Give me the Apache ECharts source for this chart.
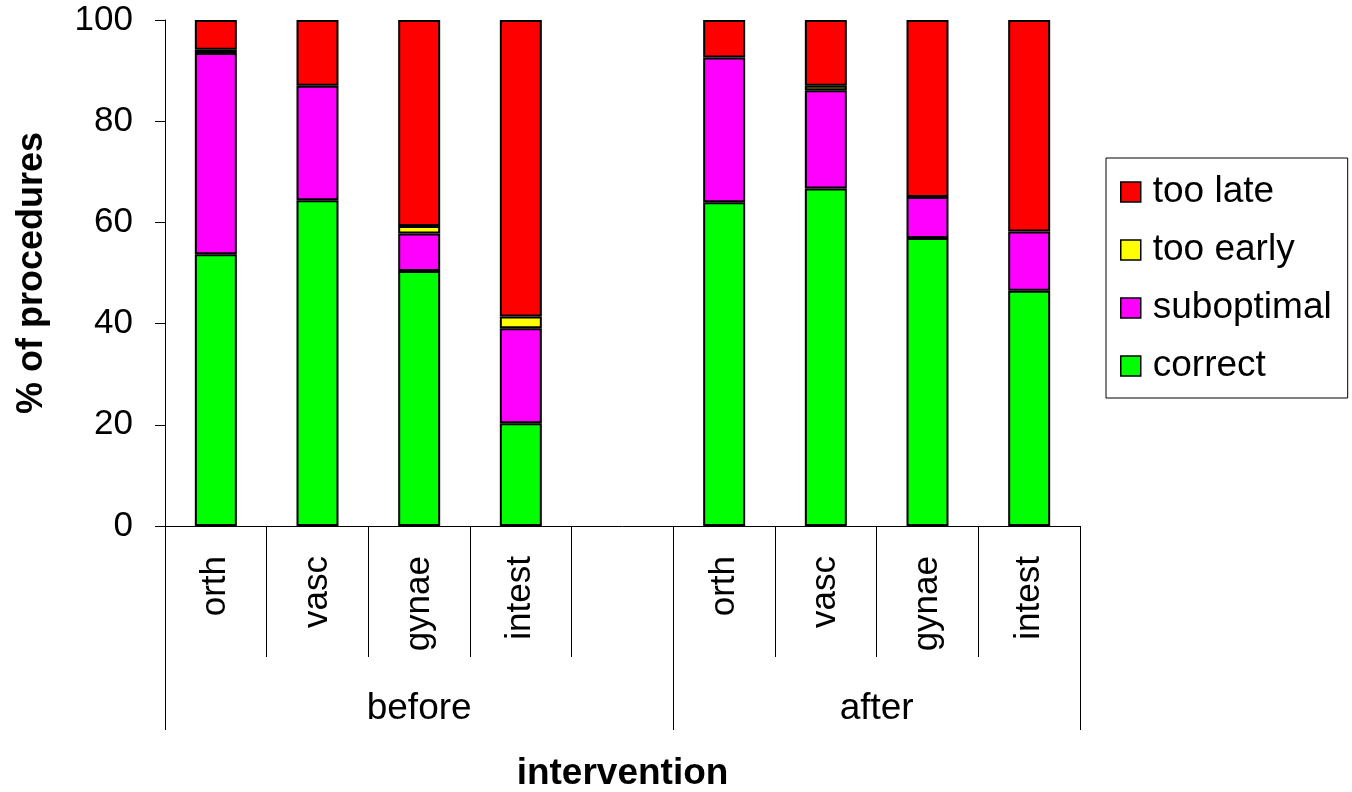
<!DOCTYPE html>
<html>
<head>
<meta charset="utf-8">
<script src="https://cdn.jsdelivr.net/npm/echarts@6/dist/echarts.min.js"></script>
<style>
  html, body { margin: 0; padding: 0; background: #fff; }
  #chart { width: 1352px; height: 792px; }
</style>
</head>
<body>
<div id="chart"></div>
<script>
// Procedure categories (blank slot separates the two intervention groups)
const categories = ['orth', 'vasc', 'gynae', 'intest', '', 'orth', 'vasc', 'gynae', 'intest'];
// Intervention groups and how many category slots each spans
const groupNames = ['before', 'after'];
const groupSpans = [5, 4];

// % of procedures per outcome
const correct    = [53.7, 64.4, 50.4, 20.3, null, 64.0, 66.7, 56.9, 46.5];
const suboptimal = [39.8, 22.6,  7.4, 18.8, null, 28.6, 19.4,  8.1, 11.7];
const tooEarly   = [ 0.6,  0,    1.5,  2.3, null,  0,    0.9,  0,    0  ];
const tooLate    = [ 5.9, 13.0, 40.7, 58.6, null,  7.4, 13.0, 35.0, 41.8];

const yTicks = [0, 20, 40, 60, 80, 100];

// group boundaries and centres on a 0..N slot scale
const groupEdges = [0];
groupSpans.forEach(s => groupEdges.push(groupEdges[groupEdges.length - 1] + s));
const groupCentres = groupSpans.map((s, i) => groupEdges[i] + s / 2);

const FONT = '"Liberation Sans", Arial, sans-serif';
const chart = echarts.init(document.getElementById('chart'));

function seriesOf(name, data, color) {
  return {
    name: name,
    type: 'bar',
    stack: 'total',
    // empty segments are skipped so they add no extra outline
    data: data.map(v => (v === 0 ? null : v)),
    barWidth: 42,
    itemStyle: { color: color, borderColor: '#000', borderWidth: 2 },
    emphasis: { disabled: true }
  };
}

chart.setOption({
  animation: false,
  backgroundColor: '#fff',
  textStyle: { fontFamily: FONT },
  grid: {
    left: 165, top: 20, right: 272, bottom: 266,
    containLabel: false,
    outerBoundsMode: 'none'
  },
  legend: {
    orient: 'vertical',
    left: 1106, top: 158,
    padding: [14, 16, 12, 14],
    borderColor: '#000',
    borderWidth: 1,
    itemWidth: 20, itemHeight: 20,
    itemGap: 18,
    icon: 'rect',
    itemStyle: { borderColor: '#000', borderWidth: 1.5 },
    textStyle: { fontFamily: FONT, fontSize: 37, color: '#000', lineHeight: 40, padding: [0, 0, 0, 7] },
    data: ['too late', 'too early', 'suboptimal', 'correct']
  },
  xAxis: [
    {
      type: 'category',
      data: categories,
      boundaryGap: true,
      position: 'bottom',
      axisLine: { show: true, lineStyle: { color: '#000', width: 1 } },
      axisTick: { show: true, interval: 0, length: 131, lineStyle: { color: '#000', width: 1 } },
      axisLabel: {
        interval: 0, rotate: 90, margin: 30,
        fontFamily: FONT, fontSize: 35, color: '#000'
      },
      splitLine: { show: false }
    },
    {
      type: 'value',
      min: 0, max: groupEdges[groupEdges.length - 1],
      position: 'bottom',
      axisLine: { show: false },
      axisTick: { show: true, customValues: groupEdges, length: 204, lineStyle: { color: '#000', width: 1 } },
      axisLabel: {
        customValues: groupCentres,
        margin: 164,
        fontFamily: FONT, fontSize: 37, color: '#000',
        formatter: (v) => groupNames[groupCentres.indexOf(v)]
      },
      splitLine: { show: false },
      name: 'intervention',
      nameLocation: 'middle',
      nameGap: 229,
      nameTextStyle: { fontFamily: FONT, fontSize: 37, fontWeight: 'bold', color: '#000' }
    }
  ],
  yAxis: {
    type: 'value',
    min: yTicks[0], max: yTicks[yTicks.length - 1], interval: 20,
    axisLine: { show: true, lineStyle: { color: '#000', width: 1 } },
    axisTick: { show: true, inside: false, length: 10, lineStyle: { color: '#000', width: 1 } },
    axisLabel: { margin: 32, fontFamily: FONT, fontSize: 35, color: '#000' },
    splitLine: { show: false },
    name: '% of procedures',
    nameLocation: 'middle',
    nameRotate: 90,
    nameGap: 115,
    nameTextStyle: { fontFamily: FONT, fontSize: 36, fontWeight: 'bold', color: '#000' }
  },
  series: [
    seriesOf('correct', correct, '#00FF00'),
    seriesOf('suboptimal', suboptimal, '#FF00FF'),
    seriesOf('too early', tooEarly, '#FFFF00'),
    seriesOf('too late', tooLate, '#FF0000')
  ]
});
</script>
</body>
</html>
